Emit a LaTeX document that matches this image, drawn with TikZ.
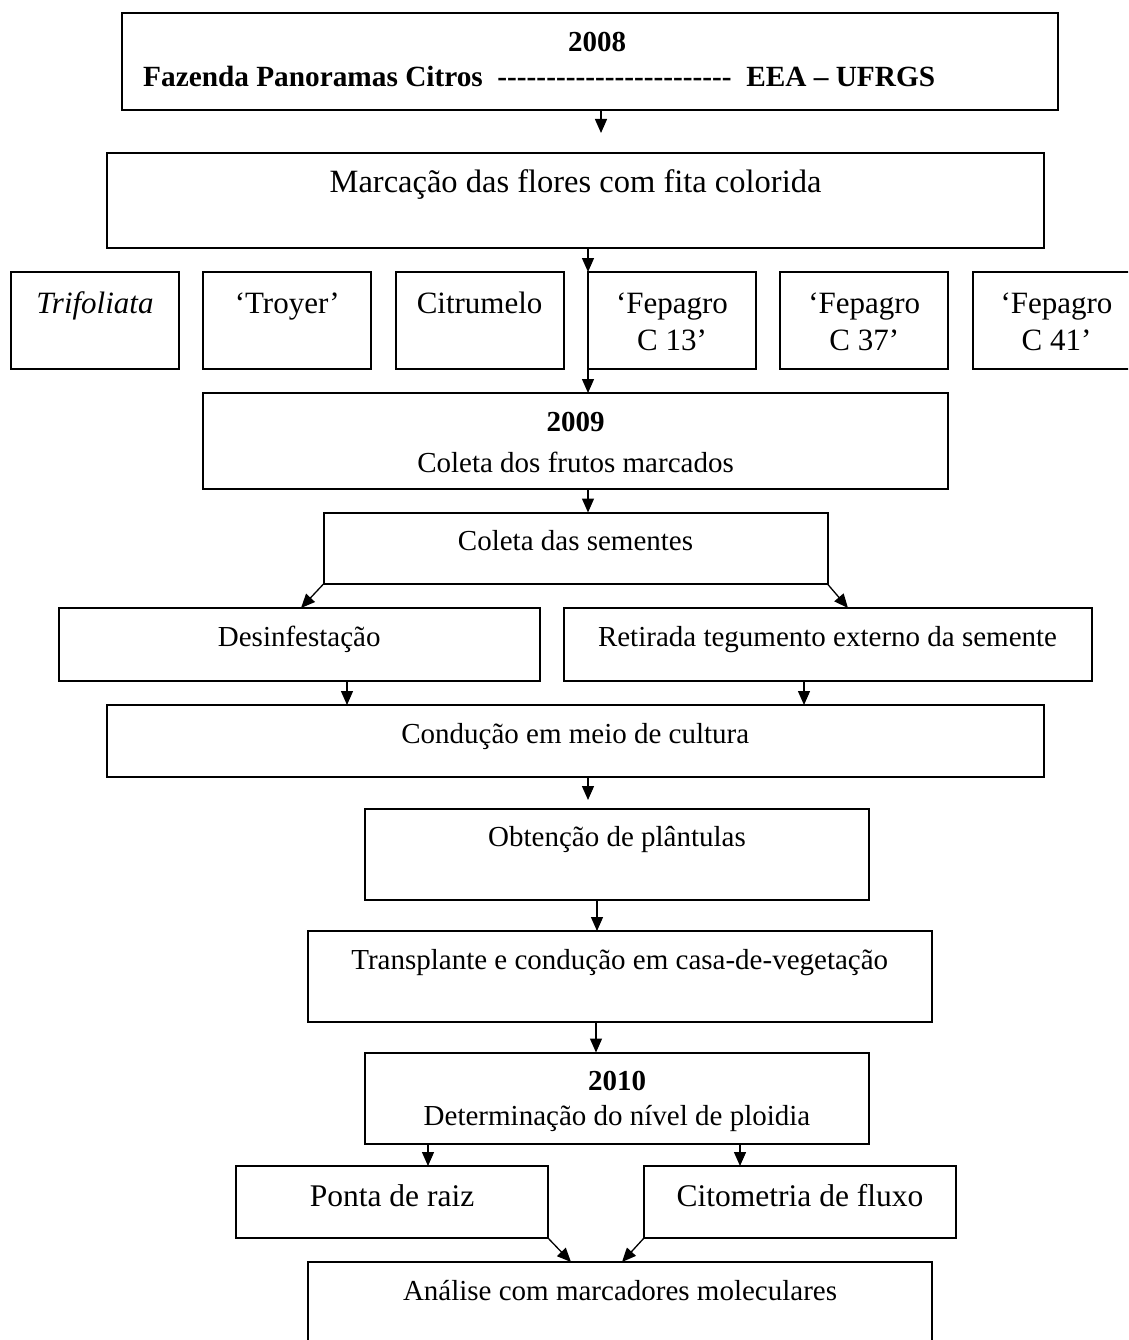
\documentclass[tikz,border=0pt]{standalone}
\usepackage{fontspec}
\setmainfont{Liberation Serif}
\usetikzlibrary{arrows.meta}
% a single hyphen that is never joined into a dash ligature
\newcommand\hy{\mbox{-}}
\begin{document}
\begin{tikzpicture}[x=1pt,y=-1pt,
  box/.style={draw,line width=2pt,rectangle,inner sep=0pt,outer sep=0pt,anchor=north west},
  txt/.style={inner sep=0pt,anchor=base,font=\fontsize{29}{35}\selectfont},
  big/.style={txt,font=\fontsize{32.5}{38}\selectfont},
  mid/.style={txt,font=\fontsize{31}{37}\selectfont},
  yr/.style={txt,font=\fontsize{29}{35}\selectfont\bfseries},
  arr/.style={line width=1.3pt,-{Triangle[length=14pt,width=12pt]}},
  ]
\useasboundingbox (0,0) rectangle (1128,1340);
\fill[white] (0,0) rectangle (1128,1340);
\clip (0,0) rectangle (1128,1340);

% ---- boxes ----
\node[box,minimum width=936pt,minimum height=97pt] (top) at (122,13) {};
\node[box,minimum width=937pt,minimum height=95pt] (marc) at (107,153) {};
\node[box,minimum width=168pt,minimum height=97pt] (tri)  at (11,272) {};
\node[box,minimum width=168pt,minimum height=97pt] (troy) at (203.3,272) {};
\node[box,minimum width=168pt,minimum height=97pt] (citr) at (395.6,272) {};
\node[box,minimum width=168pt,minimum height=97pt] (f13)  at (588,272) {};
\node[box,minimum width=168pt,minimum height=97pt] (f37)  at (780.2,272) {};
\node[box,minimum width=168pt,minimum height=97pt] (f41)  at (972.5,272) {};
\node[box,minimum width=745pt,minimum height=96pt] (y09) at (203,393) {};
\node[box,minimum width=504pt,minimum height=71.5pt] (csem) at (323.5,512.5) {};
\node[box,minimum width=480.5pt,minimum height=73pt] (des) at (59,608) {};
\node[box,minimum width=528pt,minimum height=73pt] (ret) at (563.5,608) {};
\node[box,minimum width=936.5pt,minimum height=72pt] (cond) at (107,705) {};
\node[box,minimum width=504pt,minimum height=91pt] (obt) at (365,809) {};
\node[box,minimum width=624.5pt,minimum height=91pt] (trans) at (307.5,931) {};
\node[box,minimum width=504pt,minimum height=91.5pt] (y10) at (365,1052.5) {};
\node[box,minimum width=312.3pt,minimum height=72pt] (ponta) at (235.7,1166) {};
\node[box,minimum width=312pt,minimum height=72pt] (cito) at (644,1166) {};
\node[box,minimum width=624pt,minimum height=140pt] (anal) at (308,1262) {};

% ---- texts ----
\node[yr] (t-top1) at (597,52) {2008};
\node[yr,font=\fontsize{29.3}{35}\selectfont\bfseries,anchor=base west] (t-top2) at (143,87)
  {Fazenda Panoramas Citros\ \ \hy\hy\hy\hy\hy\hy\hy\hy\hy\hy\hy\hy\hy\hy\hy\hy\hy\hy\hy\hy\hy\hy\hy\hy\ \ EEA – UFRGS};
\node[big] (t-marc) at (575.5,193) {Marcação das flores com fita colorida};
\node[mid] (t-tri)  at (95,313) {\itshape Trifoliata};
\node[mid] (t-troy) at (287.3,313) {‘Troyer’};
\node[mid] (t-citr) at (479.6,313) {Citrumelo};
\node[mid] (t-f13a) at (672,313) {‘Fepagro};
\node[mid] (t-f13b) at (672,350) {C 13’};
\node[mid] (t-f37a) at (864.2,313) {‘Fepagro};
\node[mid] (t-f37b) at (864.2,350) {C 37’};
\node[mid] (t-f41a) at (1056.5,313) {‘Fepagro};
\node[mid] (t-f41b) at (1056.5,350) {C 41’};
\node[yr]  (t-y09a) at (575.5,431) {2009};
\node[txt] (t-y09b) at (575.5,472) {Coleta dos frutos marcados};
\node[txt] (t-csem) at (575.5,550.5) {Coleta das sementes};
\node[txt] (t-des)  at (299.25,646) {Desinfestação};
\node[txt] (t-ret)  at (827.5,646) {Retirada tegumento externo da semente};
\node[txt] (t-cond) at (575.25,743) {Condução em meio de cultura};
\node[txt] (t-obt)  at (617,846) {Obtenção de plântulas};
\node[txt] (t-trans) at (619.75,969) {Transplante e condução em casa-de-vegetação};
\node[yr]  (t-y10a) at (617,1090) {2010};
\node[txt] (t-y10b) at (617,1125) {Determinação do nível de ploidia};
\node[mid,font=\fontsize{31.5}{37}\selectfont] (t-ponta) at (392,1206) {Ponta de raiz};
\node[mid,font=\fontsize{31.5}{37}\selectfont] (t-cito)  at (800,1206) {Citometria de fluxo};
\node[txt] (t-anal) at (620,1300) {Análise com marcadores moleculares};

% ---- columns used by the vertical connectors ----
\coordinate (c601) at (601,0);
\coordinate (c588) at (588,0);
\coordinate (c301) at (301,0);
\coordinate (c848) at (848,0);
\coordinate (c347) at (347,0);
\coordinate (c804) at (804,0);
\coordinate (c597) at (597,0);
\coordinate (c596) at (596,0);
\coordinate (c428) at (428,0);
\coordinate (c740) at (740,0);
\coordinate (c571) at (571,0);
\coordinate (c622) at (622,0);
% two connectors stop short of the box below them
\coordinate (end1) at (601,133);
\coordinate (end2) at (588,800);

% ---- connectors ----
\draw[arr] (top.south -| c601) -- (end1);
\draw[arr] (marc.south -| c588) -- (f13.north west);
\draw[arr] (f13.north west) -- (y09.north -| c588);
\draw[arr] (y09.south -| c588) -- (csem.north -| c588);
\draw[arr] (csem.south west) -- (des.north -| c301);
\draw[arr] (csem.south east) -- (ret.north -| c848);
\draw[arr] (des.south -| c347) -- (cond.north -| c347);
\draw[arr] (ret.south -| c804) -- (cond.north -| c804);
\draw[arr] (cond.south -| c588) -- (end2);
\draw[arr] (obt.south -| c597) -- (trans.north -| c597);
\draw[arr] (trans.south -| c596) -- (y10.north -| c596);
\draw[arr] (y10.south -| c428) -- (ponta.north -| c428);
\draw[arr] (y10.south -| c740) -- (cito.north -| c740);
\draw[arr] (ponta.south east) -- (anal.north -| c571);
\draw[arr] (cito.south west) -- (anal.north -| c622);
\end{tikzpicture}
\end{document}
